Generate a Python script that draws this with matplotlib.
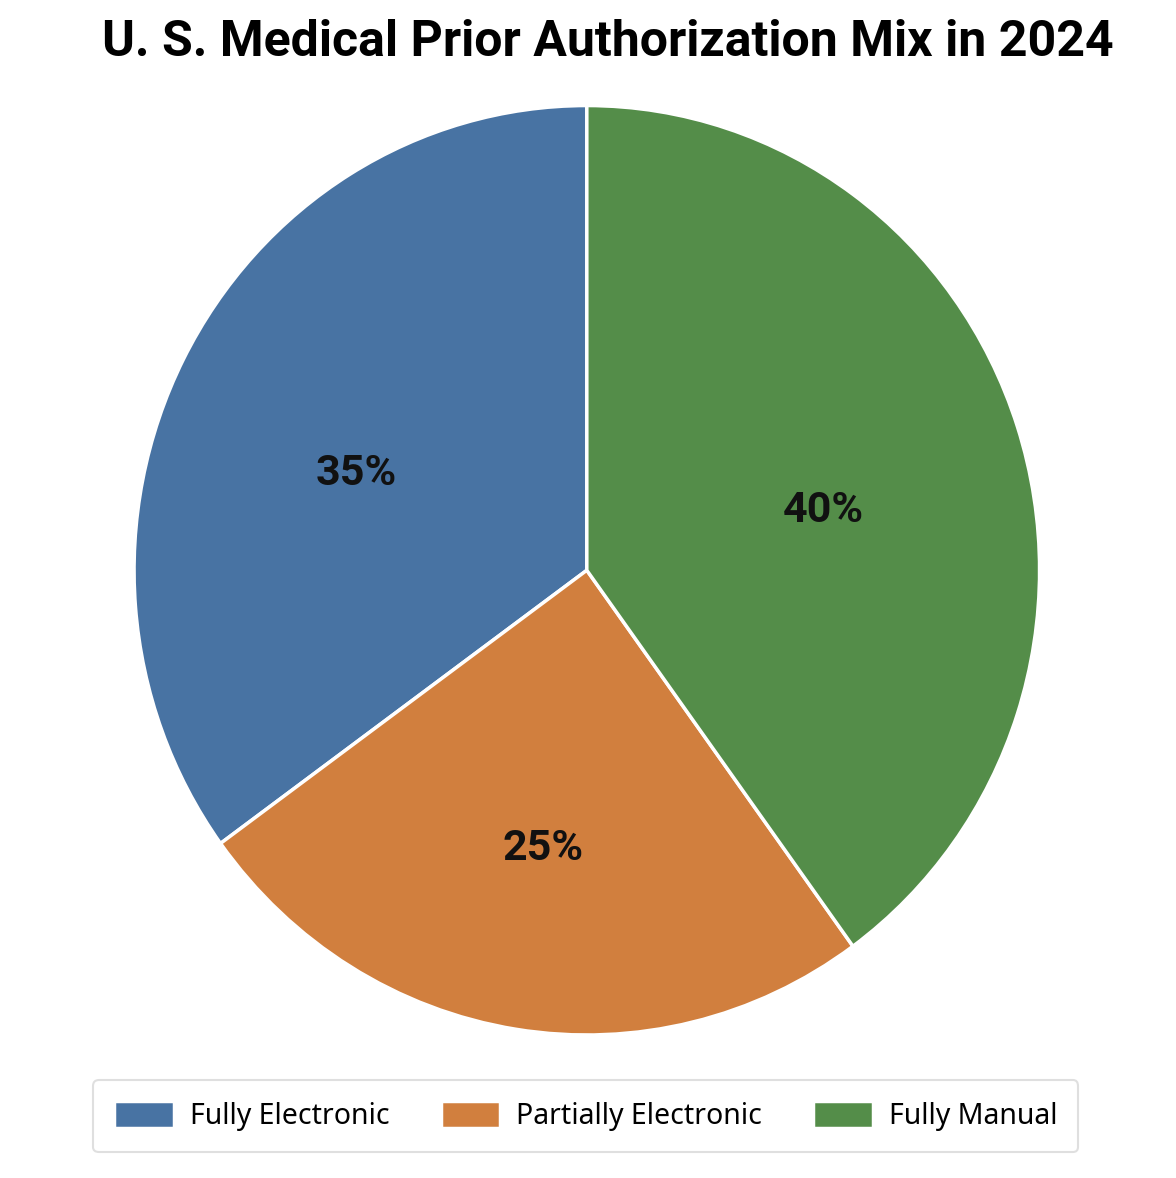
import matplotlib.pyplot as plt

# data
labels = ['Fully Electronic', 'Partially Electronic', 'Fully Manual']
shares = [35, 25, 40]
colors = ['#4873a3', '#d17f3e', '#548d49']
title = 'U. S. Medical Prior Authorization Mix in 2024'

fig = plt.figure(figsize=(11.76, 11.78), dpi=100)
fig.patch.set_facecolor('white')

ax = fig.add_axes([0.114, 0.1214, 0.770, 0.789])
wedges, texts, autotexts = ax.pie(
    shares, colors=colors, startangle=90, counterclock=True,
    autopct='%d%%', pctdistance=0.56,
    wedgeprops=dict(edgecolor='white', linewidth=2.5),
    textprops=dict(fontsize=31, fontweight='bold', color='#111111', family='Roboto'))
ax.set_aspect('auto')
ax.set_xlim(-1.0, 1.0)
ax.set_ylim(-1.0, 1.0)
# labels sit a little lower than the default spot
for t in autotexts:
    x, y = t.get_position()
    t.set_position((x - 0.01, y - 0.045))

fig.text(0.517, 0.964, title, ha='center', va='center',
         fontsize=36, fontweight='bold', family='Roboto')

leg = fig.legend(wedges, labels, loc='center', bbox_to_anchor=(0.498, 0.0525),
                 ncol=3, frameon=True, prop={'family': 'Noto Sans', 'size': 20.5},
                 handlelength=2.1, handleheight=1.05, handletextpad=0.55,
                 columnspacing=1.8, borderpad=0.75, fancybox=True)
leg.get_frame().set_edgecolor('#d8d8d8')
leg.get_frame().set_linewidth(1.5)

fig.savefig('out.png', dpi=100, facecolor='white')
